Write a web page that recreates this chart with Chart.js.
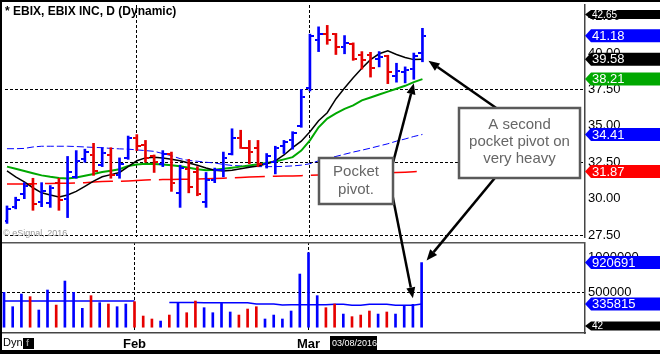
<!DOCTYPE html>
<html>
<head>
<meta charset="utf-8">
<script src="https://cdn.jsdelivr.net/npm/chart.js@4.4.1/dist/chart.umd.min.js"></script>
<style>
  html, body { margin: 0; padding: 0; background: #fff; }
  #wrap { position: relative; width: 660px; height: 354px; overflow: hidden; }
  #wrap canvas { position: absolute; left: 0; }
  #price { top: 0; }
  #vol { top: 242px; }
  #over { top: 0; pointer-events: none; }
  .edge { position: absolute; background: #000; }
</style>
</head>
<body>
<div id="wrap">
  <canvas id="price" width="660" height="242"></canvas>
  <canvas id="vol" width="660" height="112"></canvas>
  <canvas id="over" width="660" height="354"></canvas>
  <div class="edge" style="left:0;top:0;width:660px;height:2px"></div>
  <div class="edge" style="left:0;top:0;width:2px;height:354px"></div>
  <div class="edge" style="left:0;top:350px;width:660px;height:4px"></div>
</div>
<script>
// daily bars, EBIX
const dates = [
  "01/08", "01/11", "01/12", "01/13", "01/14", "01/15", "01/19", "01/20", "01/21", "01/22",
  "01/25", "01/26", "01/27", "01/28", "01/29", "02/01", "02/02", "02/03", "02/04", "02/05",
  "02/08", "02/09", "02/10", "02/11", "02/12", "02/16", "02/17", "02/18", "02/19", "02/22",
  "02/23", "02/24", "02/25", "02/26", "02/29", "03/01", "03/02", "03/03", "03/04", "03/07",
  "03/08", "03/09", "03/10", "03/11", "03/14", "03/15", "03/16", "03/17", "03/18",
];
const monthLabels = ["Jan", "Feb", "Mar"];

const opens = [
  28.5, 29.4, 30.3, 31.0, 29.8, 29.7, 31.1, 30.0, 31.5, 32.7,
  33.0, 32.3, 33.0, 31.6, 32.8, 34.2, 33.7, 32.9, 32.4, 33.1,
  30.4, 32.05, 31.8, 29.8, 31.3, 31.95, 33.1, 34.2, 33.5, 33.5,
  32.4, 32.5, 33.6, 34.0, 35.0, 37.6, 40.9, 41.3, 41.3, 40.4,
  40.65, 39.9, 39.9, 39.6, 39.8, 38.4, 38.7, 38.9, 40.0,
];
const highs = [
  29.5, 30.1, 31.1, 31.4, 31.1, 30.9, 31.4, 32.9, 33.3, 33.4,
  33.8, 33.5, 33.5, 32.8, 34.3, 34.4, 34.0, 33.0, 33.3, 33.2,
  32.3, 32.7, 32.2, 31.8, 32.1, 33.2, 34.8, 34.7, 34.0, 34.0,
  33.1, 33.6, 34.0, 34.6, 37.5, 41.3, 41.8, 41.9, 41.35, 41.2,
  40.7, 40.1, 40.05, 40.1, 39.85, 39.3, 39.05, 40.0, 41.7,
];
const lows = [
  28.3, 29.3, 30.0, 29.2, 29.45, 29.4, 29.2, 28.7, 31.4, 32.5,
  31.6, 32.2, 31.4, 31.4, 32.7, 33.3, 32.5, 31.8, 32.2, 30.5,
  29.4, 30.4, 30.2, 29.4, 31.1, 31.5, 33.0, 33.45, 32.4, 32.2,
  32.1, 31.7, 33.1, 33.4, 34.9, 37.4, 40.1, 40.6, 39.9, 39.95,
  39.5, 38.9, 38.35, 39.05, 37.9, 38.0, 37.95, 38.2, 39.4,
];
const closes = [
  29.3, 29.9, 30.9, 29.6, 30.5, 30.7, 29.9, 31.8, 32.6, 33.2,
  31.9, 33.15, 31.6, 32.4, 34.15, 33.6, 32.8, 32.5, 33.1, 31.05,
  32.1, 30.8, 30.3, 31.3, 32.0, 32.8, 34.2, 33.5, 33.2, 32.4,
  32.9, 33.45, 33.9, 34.5, 37.0, 41.2, 41.3, 40.9, 40.4, 40.7,
  39.6, 39.5, 39.0, 39.7, 38.7, 38.75, 38.85, 39.8, 41.18,
];

// moving averages
const maBlack = [
  31.9, 31.5, 31.15, 30.75, 30.4, 30.25, 30.12, 30.25, 30.5, 30.85,
  31.2, 31.5, 31.65, 31.8, 32.2, 32.6, 32.8, 32.85, 32.8, 32.7,
  32.6, 32.45, 32.3, 32.1, 31.95, 31.9, 31.95, 32.05, 32.15, 32.25,
  32.4, 32.6, 33.0, 33.5, 33.95, 34.6, 35.35, 35.9, 36.85, 37.6,
  38.3, 38.95, 39.55, 39.95, 40.15, 39.9, 39.7, 39.55, 39.58,
];
const maGreen = [
  32.2, 32.05, 31.9, 31.75, 31.6, 31.5, 31.42, 31.38, 31.45, 31.58,
  31.7, 31.83, 31.92, 32.02, 32.25, 32.35, 32.39, 32.38, 32.35, 32.3,
  32.22, 32.12, 32.02, 31.95, 31.98, 32.05, 32.12, 32.2, 32.28, 32.36,
  32.45, 32.55, 32.7, 32.85, 33.3, 34.0, 34.9, 35.5, 35.85, 36.17,
  36.4, 36.75, 36.95, 37.15, 37.35, 37.55, 37.75, 38.0, 38.21,
];
const maBlue = [
  33.43, 33.43, 33.45, 33.55, 33.6, 33.6, 33.6, 33.6, 33.58, 33.55,
  33.52, 33.5, 33.45, 33.42, 33.4, 33.35, 33.3, 33.25, 33.1, 32.95,
  32.75, 32.62, 32.57, 32.5, 32.45, 32.35, 32.28, 32.25, 32.22, 32.2,
  32.2, 32.2, 32.22, 32.25, 32.3, 32.4, 32.6, 32.75, 32.9, 33.05,
  33.2, 33.33, 33.47, 33.62, 33.77, 33.95, 34.1, 34.27, 34.41,
];
const maRed = [
  31.0, 31.0, 31.01, 31.02, 31.03, 31.04, 31.05, 31.06, 31.08, 31.1,
  31.15, 31.18, 31.2, 31.2, 31.22, 31.25, 31.28, 31.3, 31.31, 31.32,
  31.33, 31.34, 31.35, 31.37, 31.39, 31.41, 31.43, 31.45, 31.48, 31.5,
  31.52, 31.54, 31.55, 31.56, 31.58, 31.6, 31.62, 31.64, 31.66, 31.68,
  31.7, 31.72, 31.74, 31.76, 31.78, 31.8, 31.82, 31.85, 31.87,
];

const volumes = [
  500000, 297000, 476000, 439000, 250000, 533000, 320000, 660000, 500000, 274000,
  453000, 354000, 335000, 297000, 335000, 368000, 165000, 123000, 94000, 179000,
  354000, 212000, 377000, 283000, 212000, 344000, 222000, 179000, 264000, 297000,
  123000, 179000, 123000, 236000, 759000, 1061000, 453000, 283000, 335000, 193000,
  156000, 179000, 236000, 193000, 222000, 193000, 311000, 330000, 920691,
];
const volMA = [
  377000, 377000, 377000, 377000, 377000, 377000, 377000, 377000, 377000, 377000,
  377000, 377000, 377000, 377000, 377000, 377000, null, null, null, 358000,
  358000, 358000, 358000, 352000, 352000, 352000, 352000, 352000, 352000, 335000,
  335000, 335000, 320000, 326000, 326000, 326000, 326000, 326000, 330000, 330000,
  316000, 316000, 330000, 330000, 330000, 316000, 316000, 316000, 335815,
];

const priceTicks = [27.5, 30, 32.5, 35, 37.5, 40, 42.5];
const priceGrid = [27.5, 32.5, 37.5];
const volTicks = [0, 500000, 1000000];
const volGrid = [500000];
const topTag = 42.65;
const extraVolTag = { value: 25000, text: "42" };

// axis ranges
const X_MIN = -0.23, X_MAX = 66.78;
const P_MIN = 27.367, P_MAX = 43.3;
const V_MIN = -75000, V_MAX = 1212000;

const BLUE = "#0000ff";
const RED = "#e60000";
const GREEN = "#00a800";
const FONT = "'Liberation Sans', Arial, sans-serif";

Chart.defaults.font.family = FONT;

const isUp = (i) => i === 0 || closes[i] >= closes[i - 1];
const barColor = (c) => (isUp(c.dataIndex) ? BLUE : RED);

// month ticks where the month changes
const monthTicks = [];
dates.forEach((d, i) => {
  if (i > 0 && d.slice(0, 2) !== dates[i - 1].slice(0, 2)) monthTicks.push(i);
});
const monthName = (v) => monthLabels[parseInt(dates[Math.round(v)].slice(0, 2)) - 1];

// open / close tick images
function tickImg(color, side) {
  const c = document.createElement("canvas");
  c.width = 8;
  c.height = 2;
  const g = c.getContext("2d");
  g.fillStyle = color;
  g.fillRect(side === "open" ? 0 : 5, 0, 3, 2);
  return c;
}
const openBlue = tickImg(BLUE, "open"), openRed = tickImg(RED, "open");
const closeBlue = tickImg(BLUE, "close"), closeRed = tickImg(RED, "close");

function drawTag(ctx, scale, value, text, bg, small) {
  const y = scale.getPixelForValue(value);
  const h = small ? 9 : 13;
  const x0 = scale.left;
  ctx.save();
  ctx.fillStyle = bg;
  ctx.beginPath();
  ctx.moveTo(x0, y);
  ctx.lineTo(x0 + 6, y - h / 2);
  ctx.lineTo(660, y - h / 2);
  ctx.lineTo(660, y + h / 2);
  ctx.lineTo(x0 + 6, y + h / 2);
  ctx.closePath();
  ctx.fill();
  ctx.fillStyle = "#fff";
  ctx.font = (small ? "10px " : "13px ") + FONT;
  ctx.textBaseline = "middle";
  ctx.fillText(text, x0 + 7, y + 0.5);
  ctx.restore();
}

const last = closes.length - 1;

const priceTags = {
  id: "priceTags",
  afterDraw(chart) {
    const ys = chart.scales.y, ctx = chart.ctx;
    drawTag(ctx, ys, topTag, topTag.toFixed(2), "#000", true);
    drawTag(ctx, ys, closes[last], closes[last].toFixed(2), BLUE);
    drawTag(ctx, ys, maBlack[last], maBlack[last].toFixed(2), "#000");
    drawTag(ctx, ys, maGreen[last], maGreen[last].toFixed(2), GREEN);
    drawTag(ctx, ys, maBlue[last], maBlue[last].toFixed(2), BLUE);
    drawTag(ctx, ys, maRed[last], maRed[last].toFixed(2), "#ff0000");
  },
};

const volTags = {
  id: "volTags",
  afterDraw(chart) {
    const ys = chart.scales.y, ctx = chart.ctx;
    ctx.save();
    ctx.strokeStyle = "#555";
    ctx.lineWidth = 1.5;
    ctx.beginPath();
    ctx.moveTo(0, 0.75);
    ctx.lineTo(ys.left, 0.75);
    ctx.stroke();
    ctx.restore();
    drawTag(ctx, ys, volumes[last], String(volumes[last]), BLUE);
    drawTag(ctx, ys, volMA[last], String(volMA[last]), BLUE);
    drawTag(ctx, ys, extraVolTag.value, extraVolTag.text, "#000", true);
  },
};

const xy = (arr) => arr.map((v, i) => ({ x: i, y: v }));

const baseOpts = {
  animation: false,
  responsive: false,
  devicePixelRatio: 1,
  events: [],
  plugins: { legend: { display: false }, tooltip: { enabled: false } },
};

const priceChart = new Chart(document.getElementById("price"), {
  type: "bar",
  data: {
    datasets: [
      { type: "line", data: xy(maRed), borderColor: "#ff0000", borderWidth: 1.5, borderDash: [30, 8], pointRadius: 0, order: 6 },
      { type: "line", data: xy(maBlue), borderColor: BLUE, borderWidth: 1, borderDash: [7, 3], pointRadius: 0, order: 5 },
      { type: "line", data: xy(maGreen), borderColor: GREEN, borderWidth: 2, pointRadius: 0, order: 4 },
      { type: "line", data: xy(maBlack), borderColor: "#000", borderWidth: 1.5, pointRadius: 0, order: 3 },
      {
        data: lows.map((l, i) => ({ x: i, y: [l, highs[i]] })),
        backgroundColor: barColor,
        barThickness: 2,
        borderWidth: 0,
        order: 2,
      },
      {
        type: "scatter",
        data: xy(opens),
        pointStyle: (c) => (isUp(c.dataIndex) ? openBlue : openRed),
        pointRadius: 3,
        order: 1,
      },
      {
        type: "scatter",
        data: xy(closes),
        pointStyle: (c) => (isUp(c.dataIndex) ? closeBlue : closeRed),
        pointRadius: 3,
        order: 1,
      },
    ],
  },
  options: {
    ...baseOpts,
    layout: { padding: { left: 2, top: 3, right: 0, bottom: 0 } },
    scales: {
      x: {
        type: "linear",
        min: X_MIN,
        max: X_MAX,
        offset: false,
        afterBuildTicks: (s) => { s.ticks = monthTicks.map((v) => ({ value: v })); },
        afterFit: (s) => { s.height = 0; s.paddingLeft = 0; s.paddingRight = 0; },
        ticks: { display: false },
        grid: { color: "#000", lineWidth: 1, drawTicks: false, offset: false },
        border: { display: false, dash: [3, 2] },
      },
      y: {
        position: "right",
        min: P_MIN,
        max: P_MAX,
        afterBuildTicks: (s) => { s.ticks = priceTicks.map((v) => ({ value: v })); },
        afterFit: (s) => { s.width = 75; s.paddingTop = 0; s.paddingBottom = 0; },
        ticks: { color: "#000", font: { size: 13 }, padding: 3, callback: (v) => Number(v).toFixed(2) },
        grid: {
          drawTicks: false,
          lineWidth: 1,
          color: (c) => (c.tick && priceGrid.some((g) => Math.abs(g - c.tick.value) < 1e-6) ? "#000" : "rgba(0,0,0,0)"),
        },
        border: { display: true, color: "#444", width: 1.5, dash: [3, 2] },
      },
    },
  },
  plugins: [priceTags],
});

const volChart = new Chart(document.getElementById("vol"), {
  type: "bar",
  data: {
    datasets: [
      { type: "line", data: xy(volMA), borderColor: BLUE, borderWidth: 1.5, pointRadius: 0, spanGaps: false, order: 3 },
      { data: xy(volumes), backgroundColor: barColor, barThickness: 2, borderWidth: 0, order: 1 },
    ],
  },
  options: {
    ...baseOpts,
    layout: { padding: { left: 2, top: 0, right: 0, bottom: 0 } },
    scales: {
      x: {
        type: "linear",
        min: X_MIN,
        max: X_MAX,
        offset: false,
        afterBuildTicks: (s) => { s.ticks = monthTicks.map((v) => ({ value: v })); },
        afterFit: (s) => { s.height = 21; s.paddingLeft = 0; s.paddingRight = 0; },
        ticks: { color: "#000", font: { size: 13, weight: "bold" }, padding: 4, maxRotation: 0, callback: (v) => monthName(v) },
        grid: { color: "#000", lineWidth: 1, drawTicks: false, offset: false },
        border: { display: true, color: "#444", width: 1.5, dash: [3, 2] },
      },
      y: {
        position: "right",
        min: V_MIN,
        max: V_MAX,
        afterBuildTicks: (s) => { s.ticks = volTicks.map((v) => ({ value: v })); },
        afterFit: (s) => { s.width = 75; s.paddingTop = 0; s.paddingBottom = 0; },
        ticks: { color: "#000", font: { size: 13 }, padding: 3, callback: (v) => (v > 0 ? String(v) : "") },
        grid: {
          drawTicks: false,
          lineWidth: 1,
          color: (c) => (c.tick && volGrid.includes(c.tick.value) ? "#000" : "rgba(0,0,0,0)"),
        },
        border: { display: true, color: "#444", width: 1.5, dash: [3, 2] },
      },
    },
  },
  plugins: [volTags],
});

// annotations (overlay)
function arrow(ctx, x1, y1, x2, y2) {
  const a = Math.atan2(y2 - y1, x2 - x1);
  const len = 11, wid = 4.5;
  const bx = x2 - len * Math.cos(a), by = y2 - len * Math.sin(a);
  ctx.strokeStyle = "#000";
  ctx.lineWidth = 2.5;
  ctx.beginPath();
  ctx.moveTo(x1, y1);
  ctx.lineTo(bx, by);
  ctx.stroke();
  ctx.fillStyle = "#000";
  ctx.beginPath();
  ctx.moveTo(x2, y2);
  ctx.lineTo(bx + wid * Math.sin(a), by - wid * Math.cos(a));
  ctx.lineTo(bx - wid * Math.sin(a), by + wid * Math.cos(a));
  ctx.closePath();
  ctx.fill();
}

function textBox(ctx, x, y, w, h, lines, ys) {
  ctx.fillStyle = "#fff";
  ctx.fillRect(x, y, w, h);
  ctx.strokeStyle = "#5a5a5a";
  ctx.lineWidth = 2.5;
  ctx.strokeRect(x, y, w, h);
  ctx.fillStyle = "#666";
  ctx.font = "15px " + FONT;
  ctx.textAlign = "center";
  ctx.textBaseline = "middle";
  lines.forEach((t, i) => ctx.fillText(t, x + w / 2, ys[i]));
  ctx.textAlign = "left";
}

(function drawOverlay() {
  const ctx = document.getElementById("over").getContext("2d");
  const px = priceChart.scales.x, py = priceChart.scales.y;
  const vx = volChart.scales.x, vy = volChart.scales.y;
  const VOL_TOP = 242;
  const a = last - 1, b = last;

  arrow(ctx, 389, 178, px.getPixelForValue(a), py.getPixelForValue(lows[a]) + 4);
  arrow(ctx, 389, 178, vx.getPixelForValue(a), VOL_TOP + vy.getPixelForValue(volumes[a]) - 6);
  arrow(ctx, 532, 133, px.getPixelForValue(b) + 6, py.getPixelForValue(lows[b]) - 1);
  arrow(ctx, 532, 133, vx.getPixelForValue(b) + 5, VOL_TOP + vy.getPixelForValue(volumes[b]) - 2);

  textBox(ctx, 319, 158, 74, 46, ["Pocket", "pivot."], [172, 190]);
  textBox(ctx, 459, 108, 121, 70, ["A second", "pocket pivot on", "very heavy"], [125, 142, 159]);

  // title and small texts
  ctx.fillStyle = "#000";
  ctx.font = "bold 12px " + FONT;
  ctx.textBaseline = "middle";
  ctx.fillText("* EBIX, EBIX INC, D (Dynamic)", 5, 12);

  ctx.fillStyle = "#999";
  ctx.font = "9px " + FONT;
  ctx.fillText("\u00a9 eSignal, 2016", 3, 234);

  ctx.fillStyle = "#000";
  ctx.font = "11px " + FONT;
  ctx.fillText("Dyn", 3, 343);
  ctx.fillRect(23, 338, 11, 11);
  ctx.fillStyle = "#999";
  ctx.font = "bold 9px " + FONT;
  ctx.fillText("f", 26, 344);

  ctx.fillStyle = "#000";
  ctx.fillRect(330, 336, 47, 14);
  ctx.fillStyle = "#fff";
  ctx.font = "9px " + FONT;
  ctx.fillText("03/08/2016", 332, 343.5);
})();
</script>
</body>
</html>
